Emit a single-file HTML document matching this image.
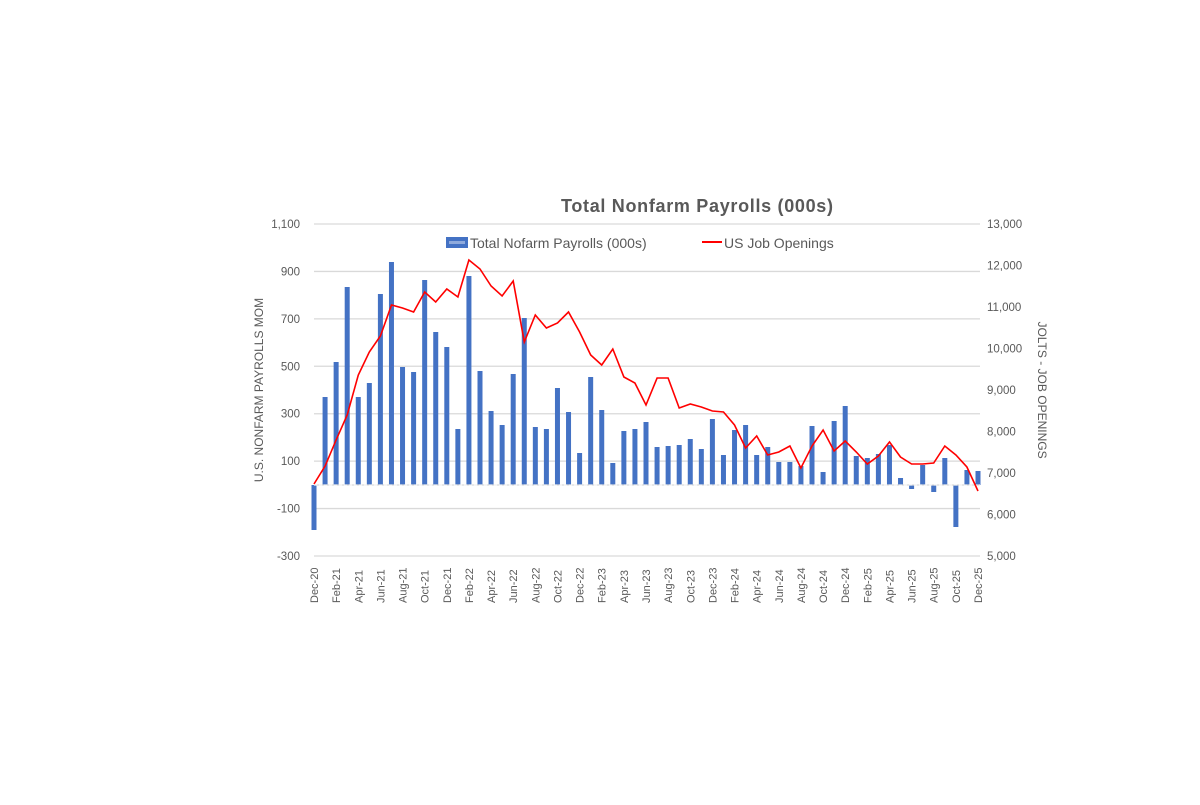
<!DOCTYPE html>
<html><head><meta charset="utf-8"><style>
body{margin:0;background:#fff;width:1200px;height:800px;overflow:hidden;font-family:"Liberation Sans",sans-serif}
</style></head><body>
<svg id="s" width="1200" height="800" xmlns="http://www.w3.org/2000/svg" font-family="Liberation Sans, sans-serif"></svg>
<script>
const s=document.getElementById('s');let h='';
const L=314,dx=(978-314)/60,Z=485;
const lv=[1100,900,700,500,300,100,-100,-300];
lv.forEach(v=>{const y=224+(1100-v)/1400*332;h+=`<line x1="314" x2="980" y1="${y}" y2="${y}" stroke="#d9d9d9" stroke-width="1.3"/>`;
h+=`<text x="300" y="${y+4}" font-size="11.5" fill="#595959" text-anchor="end">${v.toLocaleString('en-US')}</text>`;});
const rv=[13000,12000,11000,10000,9000,8000,7000,6000,5000];
rv.forEach((v,i)=>{const y=224+i*41.5;h+=`<text x="987" y="${y+4}" font-size="11.5" fill="#595959">${v.toLocaleString('en-US')}</text>`;});
const bars=[530,397,362,287,397,383,294,262,367,372,280,332,347,429,276,371,411,425,374,318,427,429,388,412,453,377,410,463,431,429,422,447,446,445,439,449,419,455,430,425,455,447,462,462,466,426,472,421,406,456,458,454,445,478,489,465,492,458,527,470,471];
bars.forEach((t,i)=>{const x=L+i*dx;const y1=Math.min(t,Z),y2=Math.max(t,Z);h+=`<rect x="${x-2.5}" y="${y1}" width="5" height="${y2-y1}" fill="#4472c4"/>`;});
h+=`<line x1="314" x2="980" y1="${Z}" y2="${Z}" stroke="#d9d9d9" stroke-width="1.3"/>`;
h+=`<line x1="314" x2="980" y1="${Z}" y2="${Z}" stroke="#fff" stroke-width="1" stroke-dasharray="3,2" opacity="0.8"/>`;
const ln=[484,466,440,415,375,352,336,305,308,312,292,302,289,297,260,269,286,296,281,342,315,328,323,312,332,355,365,349,377,383,405,378,378,408,404,407,411,412,425,448,436,455,452,446,468,446,430,451,441,452,464,456,442,457,464,464,463,446,455,467,491];
h+=`<polyline fill="none" stroke="#ff0000" stroke-width="1.6" points="${ln.map((y,i)=>(L+i*dx).toFixed(1)+','+y).join(' ')}"/>`;
for(let i=0;i<=60;i+=2){const yr=20+Math.floor((i+11)/12);const m=['Jan','Feb','Mar','Apr','May','Jun','Jul','Aug','Sep','Oct','Nov','Dec'][(i+11)%12];const x=L+i*dx;
h+=`<text transform="translate(${x+4},603) rotate(-90)" font-size="11" fill="#595959">${m}-${yr}</text>`;}
h+=`<text x="697" y="212" font-size="18" font-weight="bold" fill="#595959" text-anchor="middle" textLength="272">Total Nonfarm Payrolls (000s)</text>`;
h+=`<rect x="446" y="237" width="22" height="11" fill="#4472c4"/><rect x="449" y="241" width="16" height="3" fill="#8faadc"/>`;
h+=`<text x="470" y="248" font-size="14" fill="#595959">Total Nofarm Payrolls (000s)</text>`;
h+=`<line x1="702" x2="722" y1="242" y2="242" stroke="#ff0000" stroke-width="2"/>`;
h+=`<text x="724" y="248" font-size="14" fill="#595959">US Job Openings</text>`;
h+=`<text transform="translate(263,390) rotate(-90)" font-size="12" fill="#595959" text-anchor="middle">U.S. NONFARM PAYROLLS MOM</text>`;
h+=`<text transform="translate(1038,390) rotate(90)" font-size="12" fill="#595959" text-anchor="middle">JOLTS - JOB OPENINGS</text>`;
s.innerHTML=h;
</script>
</body></html>
